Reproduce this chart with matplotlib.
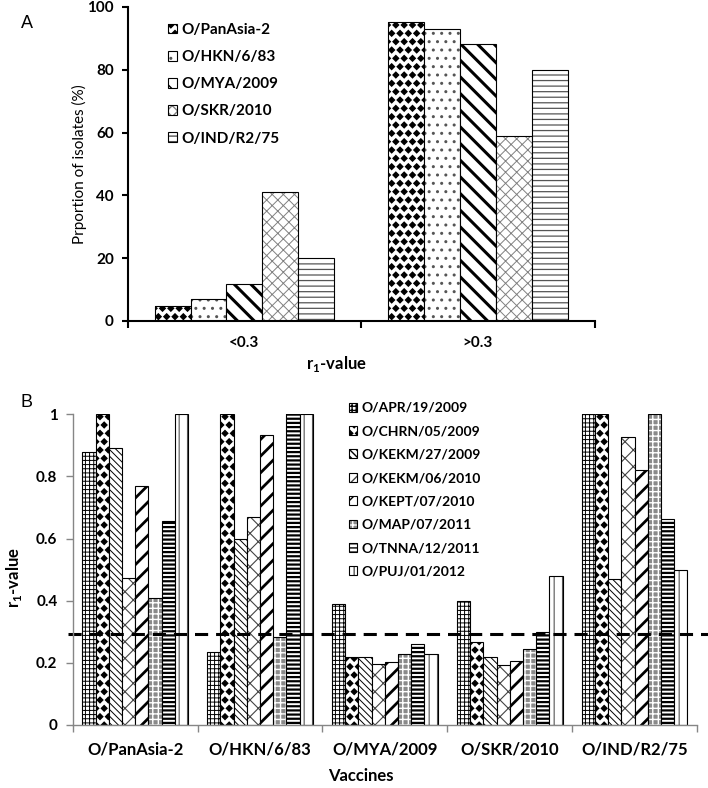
import numpy as np
import matplotlib
matplotlib.use("Agg")
import matplotlib.pyplot as plt
from matplotlib import hatch as mhatch
from matplotlib.path import Path

# the '*' hatch is turned into filled diamonds (closest to the Excel diamond fill)
def _diamond_init(self, hatch, density):
    self.num_rows = hatch.count('*') * density
    p = Path.unit_regular_polygon(4)
    self.shape_vertices = p.vertices
    self.shape_codes = p.codes
    mhatch.Shapes.__init__(self, hatch, density)
mhatch.Stars.__init__ = _diamond_init

plt.rcParams['font.family'] = ['Lato', 'DejaVu Sans']
plt.rcParams['mathtext.fontset'] = 'custom'
plt.rcParams['mathtext.rm'] = 'Lato:bold'
plt.rcParams['mathtext.bf'] = 'Lato:bold'

# ---- data, panel A ----
groups = ['<0.3', '>0.3']
top_series = ['O/PanAsia-2', 'O/HKN/6/83', 'O/MYA/2009', 'O/SKR/2010', 'O/IND/R2/75']
panasia2 = [4.8, 95.2]
hkn = [7.0, 93.0]
mya = [11.7, 88.3]
skr = [41.2, 58.8]
ind = [20.0, 80.0]

# ---- data, panel B ----
vaccines = ['O/PanAsia-2', 'O/HKN/6/83', 'O/MYA/2009', 'O/SKR/2010', 'O/IND/R2/75']
isolates = ['O/APR/19/2009', 'O/CHRN/05/2009', 'O/KEKM/27/2009', 'O/KEKM/06/2010',
            'O/KEPT/07/2010', 'O/MAP/07/2011', 'O/TNNA/12/2011', 'O/PUJ/01/2012']
apr = [0.88, 0.234, 0.389, 0.40, 1.0]
chrn = [1.0, 1.0, 0.22, 0.266, 1.0]
kekm27 = [0.893, 0.599, 0.22, 0.22, 0.469]
kekm06 = [0.474, 0.668, 0.196, 0.192, 0.926]
kept = [0.769, 0.933, 0.203, 0.206, 0.821]
map11 = [0.409, 0.284, 0.23, 0.244, 1.0]
tnna = [0.658, 1.0, 0.262, 0.299, 0.662]
puj = [1.0, 1.0, 0.228, 0.478, 0.499]
threshold = 0.293

# (hatch, hatch colour, face colour, hatch linewidth)
top_styles = [('**', 'black', 'white', 1.0),
              ('..', '#555555', 'white', 1.0),
              ('\\\\', 'black', 'white', 2.2),
              ('xxx', '#808080', 'white', 0.7),
              ('---', '#555555', 'white', 0.9)]
bot_styles = [('++++', 'black', 'white', 0.7),
              ('**', 'black', 'white', 1.0),
              ('\\\\\\\\\\', 'black', 'white', 0.7),
              ('xx', '#444444', 'white', 0.8),
              ('//', 'black', 'white', 2.0),
              ('+++', 'white', '#8a8a8a', 1.0),
              ('----', 'black', 'white', 1.6),
              ('||', '#555555', 'white', 0.8)]


def hatched_bars(ax, x, h, width, style):
    hatch, hcol, face, hlw = style
    with plt.rc_context({'hatch.linewidth': hlw}):
        fill = ax.bar(x, h, width, color=face, edgecolor=hcol, hatch=hatch, linewidth=0)
    for p in fill:
        if hasattr(p, 'set_hatch_linewidth'):
            p.set_hatch_linewidth(hlw)
    outline = ax.bar(x, h, width, fill=False, edgecolor='black', linewidth=0.8)
    return (fill[0], outline[0])


W, H = 708, 788
fig = plt.figure(figsize=(7.08, 7.88), dpi=100)

# ---------------- panel A ----------------
axA = fig.add_axes([127.7 / W, 1 - 321 / H, 467 / W, 314 / H])
top_vals = [panasia2, hkn, mya, skr, ind]
bw = 0.154
xc = np.arange(len(groups)) + 0.5
handlesA = []
for i, (vals, st) in enumerate(zip(top_vals, top_styles)):
    handlesA.append(hatched_bars(axA, xc + (i - 2) * bw, vals, bw, st))

axA.set_xlim(0, len(groups))
axA.set_ylim(0, 100)
axA.set_yticks(np.arange(0, 101, 20))
axA.set_xticks(np.arange(len(groups) + 1))
axA.set_xticklabels([])
axA.set_xticks(xc, minor=True)
axA.set_xticklabels(groups, minor=True, fontsize=11, fontweight='bold')
axA.tick_params(axis='x', which='minor', length=0, pad=11)
axA.tick_params(axis='x', which='major', length=5, width=1.5, direction='out')
axA.tick_params(axis='y', length=4, width=1.5, direction='out', pad=6)
for lab in axA.get_yticklabels():
    lab.set_fontsize(11)
    lab.set_fontweight('bold')
for s in ['top', 'right']:
    axA.spines[s].set_visible(False)
for s in ['left', 'bottom']:
    axA.spines[s].set_linewidth(1.5)
axA.set_ylabel('Prportion of isolates (%)', fontsize=11)
axA.yaxis.set_label_coords(-0.087, 0.5)
axA.set_xlabel(r'r$_{1}$-value', fontsize=12, fontweight='bold')
axA.xaxis.set_label_coords(0.448, -0.105)
axA.legend(handlesA, top_series, loc='upper left', bbox_to_anchor=(168 / W, 1 - 23 / H),
           bbox_transform=fig.transFigure, frameon=False, borderpad=0, borderaxespad=0,
           handlelength=0.6, handleheight=0.6, handletextpad=0.3, labelspacing=0.86,
           prop={'weight': 'bold', 'size': 11})

# ---------------- panel B ----------------
axB = fig.add_axes([72.7 / W, 1 - 725 / H, 624.3 / W, 310.7 / H])
bot_vals = [apr, chrn, kekm27, kekm06, kept, map11, tnna, puj]
bw2 = 0.1057
xc2 = np.arange(len(vaccines)) + 0.5
handlesB = []
for i, (vals, st) in enumerate(zip(bot_vals, bot_styles)):
    handlesB.append(hatched_bars(axB, xc2 + (i - 3.5) * bw2, vals, bw2, st))

axB.plot([-0.0075, 1.0177], [threshold, threshold], color='black', lw=2.2,
         linestyle=(0, (4.3, 2.6)), transform=axB.get_yaxis_transform(), clip_on=False)

axB.set_xlim(0, len(vaccines))
axB.set_ylim(0, 1)
axB.set_yticks(np.arange(0, 1.01, 0.2))
axB.set_yticklabels(['0', '0.2', '0.4', '0.6', '0.8', '1'], fontsize=11, fontweight='bold')
axB.set_xticks(np.arange(len(vaccines) + 1))
axB.set_xticklabels([])
axB.set_xticks(xc2, minor=True)
axB.set_xticklabels(vaccines, minor=True, fontsize=12, fontweight='bold')
axB.tick_params(axis='x', which='minor', length=0, pad=12)
axB.tick_params(axis='x', which='major', length=5, width=1, direction='out', color='#868686')
axB.tick_params(axis='y', length=5, width=1, direction='out', color='#868686', pad=6)
for s in ['top', 'right']:
    axB.spines[s].set_visible(False)
for s in ['left', 'bottom']:
    axB.spines[s].set_color('#868686')
    axB.spines[s].set_linewidth(1)
axB.set_ylabel(r'r$_{1}$-value', fontsize=12, fontweight='bold')
axB.yaxis.set_label_coords(-0.078, 0.476)
axB.set_xlabel('Vaccines', fontsize=12, fontweight='bold')
axB.xaxis.set_label_coords(0.462, -0.14)
axB.legend(handlesB, isolates, loc='upper left', bbox_to_anchor=(349 / W, 1 - 402 / H),
           bbox_transform=fig.transFigure, frameon=False, borderpad=0, borderaxespad=0,
           handlelength=0.6, handleheight=0.6, handletextpad=0.3, labelspacing=0.82,
           prop={'weight': 'bold', 'size': 10})

fig.text(27 / W, 1 - 23 / H, 'A', fontsize=13, family='Liberation Sans', ha='center', va='center')
fig.text(27 / W, 1 - 403 / H, 'B', fontsize=13, family='Liberation Sans', ha='center', va='center')

fig.savefig('out.png', dpi=100)
